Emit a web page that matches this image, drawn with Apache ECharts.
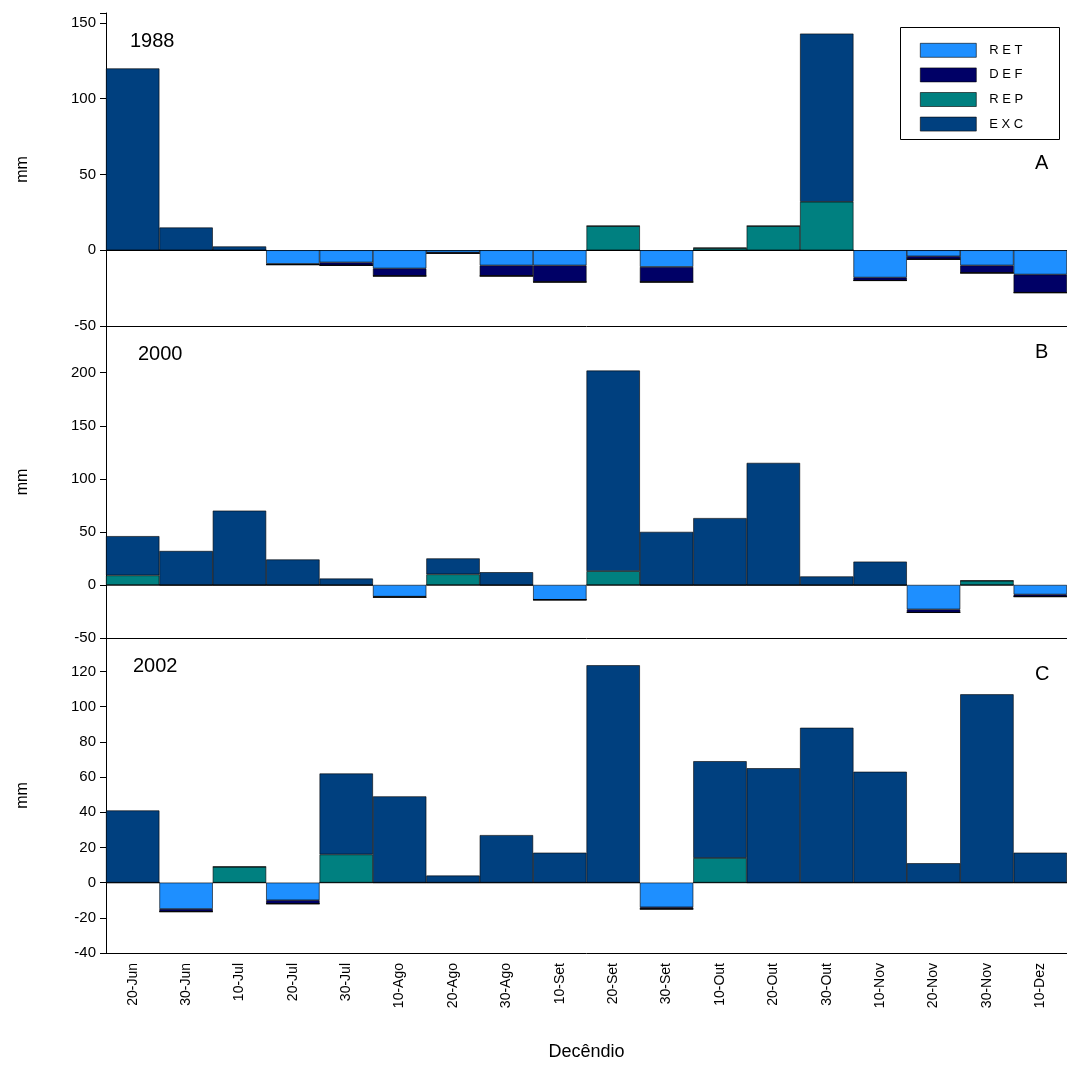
<!DOCTYPE html>
<html><head><meta charset="utf-8">
<script src="https://cdn.jsdelivr.net/npm/echarts@6/dist/echarts.min.js"></script>
<style>html,body{margin:0;padding:0;background:#fff}#chart{width:1067px;height:1067px}</style>
</head><body><div id="chart"></div>
<script>
var categories = ['20-Jun','30-Jun','10-Jul','20-Jul','30-Jul','10-Ago','20-Ago','30-Ago','10-Set','20-Set','30-Set','10-Out','20-Out','30-Out','10-Nov','20-Nov','30-Nov','10-Dez'];

// 1988
var ret1988 = [0,0,0,-9,-8,-12,-1.5,-10,-10,0,-11,0,0,0,-18,-4,-10,-16];
var def1988 = [0,0,0,-0.5,-2,-5,-0.5,-7,-11,0,-10,0,0,0,-2,-2,-5,-12];
var rep1988 = [0,0,0,0,0,0,0,0,0,16,0,1.5,16,32,0,0,0,0];
var exc1988 = [120,15,2.5,0,0,0,0,0,0,0,0,0,0,111,0,0,0,0];
// 2000
var ret2000 = [0,0,0,0,0,-11,0,0,-14,0,0,0,0,0,0,-23,0,-9];
var def2000 = [0,0,0,0,0,-0.5,0,0,0,0,0,0,0,0,0,-3,0,-2];
var rep2000 = [9,0,0,0,0,0,10,0,0,13,0,0,0,0,0,0,4,0];
var exc2000 = [37,32,70,24,6,0,15,12,0,189,50,63,115,8,22,0,0,0];
// 2002
var ret2002 = [0,-15,0,-10,0,0,0,0,0,0,-14,0,0,0,0,0,0,0];
var def2002 = [0,-1.5,0,-2,0,0,0,0,0,0,-1,0,0,0,0,0,0,0];
var rep2002 = [0,0,9,0,16,0,0,0,0,0,0,14,0,0,0,0,0,0];
var exc2002 = [41,0,0,0,46,49,4,27,17,123.5,0,55,65,88,63,11,107,17];

var panels = [
  {year:'1988', tag:'A', min:-50, max:156.6, interval:50, data:[ret1988,def1988,rep1988,exc1988]},
  {year:'2000', tag:'B', min:-50, max:244, interval:50, data:[ret2000,def2000,rep2000,exc2000]},
  {year:'2002', tag:'C', min:-40, max:139, interval:20, data:[ret2002,def2002,rep2002,exc2002]}
];
var names = ['RET','DEF','REP','EXC'];
var colors = ['#1e8fff','#000066','#008080','#00407f'];
var gridTops = [13, 326, 638];
var gridH = [313, 312, 315];
var font = 'Liberation Sans, Arial, sans-serif';

var grids = [], xAxes = [], yAxes = [], series = [], graphics = [];
panels.forEach(function (p, i) {
  grids.push({left: 106, right: 0, top: gridTops[i], height: gridH[i]});
  xAxes.push({
    type: 'category', gridIndex: i, data: categories,
    axisLine: {onZero: false, lineStyle: {color: '#000'}},
    axisTick: {inside: true, alignWithLabel: true, length: 6, lineStyle: {color: '#000'}},
    axisLabel: {show: i === 2, rotate: 90, color: '#000', fontFamily: font, fontSize: 14, margin: 10},
    name: i === 2 ? 'Decêndio' : '', nameLocation: 'middle', nameGap: 90,
    nameTextStyle: {color: '#000', fontFamily: font, fontSize: 18}
  });
  var iv = p.interval;
  yAxes.push({
    type: 'value', gridIndex: i, min: p.min, max: p.max, interval: iv,
    splitLine: {show: false},
    axisLine: {show: true, lineStyle: {color: '#000'}},
    axisTick: {show: true, length: 6, lineStyle: {color: '#000'}},
    axisLabel: {color: '#000', fontFamily: font, fontSize: 15, margin: 10,
      formatter: function (v) { return (Math.abs(v % iv) < 1e-6) ? v : ''; }},
    name: 'mm', nameLocation: 'middle', nameGap: 75, nameRotate: 90,
    nameTextStyle: {color: '#000', fontFamily: font, fontSize: 16}
  });
  p.data.forEach(function (arr, k) {
    series.push({
      name: names[k], type: 'bar', stack: 's' + i, xAxisIndex: i, yAxisIndex: i,
      data: arr, barCategoryGap: 0, barGap: 0,
      itemStyle: {color: colors[k], borderColor: '#000', borderWidth: 0.6},
      emphasis: {disabled: true}
    });
  });
  graphics.push({type: 'text', left: i === 0 ? 130 : (i === 1 ? 138 : 133), top: gridTops[i] + 18,
    style: {text: p.year, font: '20px ' + font, fill: '#000'}});
  graphics.push({type: 'text', left: 1035, top: gridTops[i] + (i === 0 ? 140 : (i === 1 ? 16 : 26)),
    style: {text: p.tag, font: '20px ' + font, fill: '#000'}});
});
// top frame line of first panel
xAxes.push({type: 'category', gridIndex: 0, position: 'top', data: categories,
  axisLine: {show: true, lineStyle: {color: '#000'}}, axisTick: {show: false}, axisLabel: {show: false}});
graphics.push({type: 'rect', left: 898, top: 25, shape: {width: 159, height: 112},
  style: {fill: 'none', stroke: '#000', lineWidth: 1}});

var myChart = echarts.init(document.getElementById('chart'));
myChart.setOption({
  animation: false,
  grid: grids, xAxis: xAxes, yAxis: yAxes, series: series, graphic: graphics,
  legend: {
    data: names, orient: 'vertical', left: 915, top: 38, icon: 'rect',
    itemWidth: 56, itemHeight: 14, itemGap: 10,
    formatter: function (n) { return n.split('').join(' '); },
    textStyle: {color: '#000', fontFamily: font, fontSize: 13, padding: [0, 0, 0, 8]},
    itemStyle: {borderColor: '#000', borderWidth: 0.6}
  }
});
</script></body></html>
